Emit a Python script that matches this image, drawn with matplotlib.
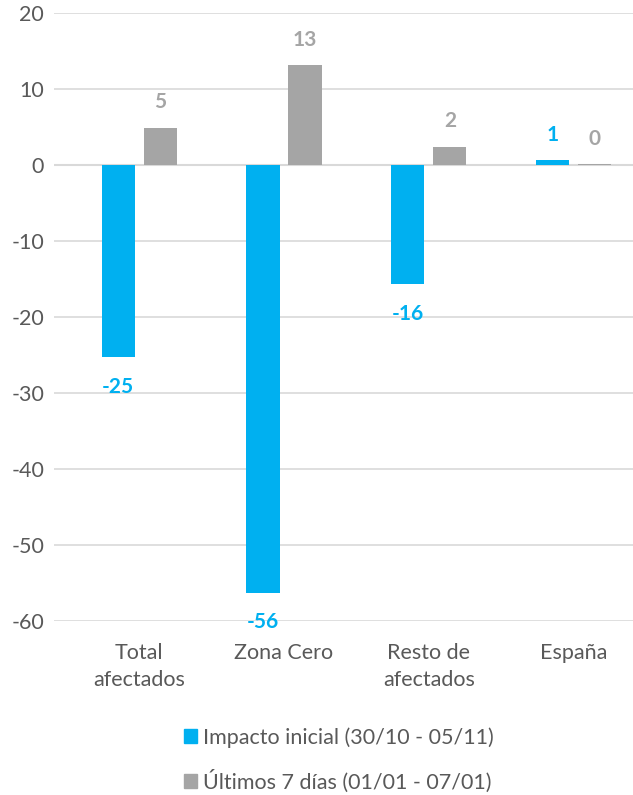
import matplotlib
matplotlib.use("Agg")
import matplotlib.pyplot as plt
import numpy as np
from matplotlib.patches import Patch

categories = ["Total\nafectados", "Zona Cero", "Resto de\nafectados", "España"]
impacto_inicial = [-25.3, -56.3, -15.7, 0.6]
ultimos_7_dias = [4.9, 13.1, 2.4, 0.1]
series_names = ["Impacto inicial (30/10 - 05/11)", "Últimos 7 días (01/01 - 07/01)"]
yticks = [20, 10, 0, -10, -20, -30, -40, -50, -60]

BLUE = "#00B0F0"
GRAY = "#A5A5A5"
TEXT = "#595959"
GRID = "#D9D9D9"

plt.rcParams["font.family"] = ["Lato", "DejaVu Sans"]

fig = plt.figure(figsize=(6.33, 7.95), dpi=100)
ax = fig.add_axes([0.085, 0.219, 0.915, 0.765])

x = np.arange(len(categories))
w = 0.23
off = 0.145
b1 = ax.bar(x - off, impacto_inicial, w, color=BLUE, zorder=3)
b2 = ax.bar(x + off, ultimos_7_dias, w, color=GRAY, zorder=3)

# data labels: above positive bars, below negative ones
for bars, vals, col in [(b1, impacto_inicial, BLUE), (b2, ultimos_7_dias, GRAY)]:
    for rect, v in zip(bars, vals):
        cx = rect.get_x() + rect.get_width() / 2
        if v >= 0:
            ax.annotate(f"{round(v):d}", (cx, v), xytext=(0, 11), textcoords="offset points",
                        ha="center", va="bottom", color=col, fontsize=15, fontweight="bold")
        else:
            ax.annotate(f"{round(v):d}", (cx, v), xytext=(0, -14), textcoords="offset points",
                        ha="center", va="top", color=col, fontsize=15, fontweight="bold")

ax.set_ylim(-60, 20)
ax.set_xlim(-0.59, 3.41)
ax.set_yticks(yticks)
ax.set_yticklabels([str(t) for t in yticks], color=TEXT, fontsize=15.5)
ax.set_xticks(x)
ax.set_xticklabels(categories, color=TEXT, fontsize=15.5, linespacing=1.45)
ax.tick_params(length=0, pad=7)
ax.tick_params(axis="x", pad=16)
ax.grid(axis="y", color=GRID, linewidth=1.2, zorder=0)
for s in ax.spines.values():
    s.set_visible(False)
ax.axhline(0, color=GRID, linewidth=1.5, zorder=2)

handles = [Patch(color=BLUE), Patch(color=GRAY)]
fig.legend(handles, series_names, loc="upper left", bbox_to_anchor=(0.277, 0.096),
           ncol=1, frameon=False, fontsize=15.5, labelcolor=TEXT, handlelength=0.6,
           handleheight=0.6, handletextpad=0.3, labelspacing=1.0, borderaxespad=0)

fig.savefig("out.png", dpi=100)
